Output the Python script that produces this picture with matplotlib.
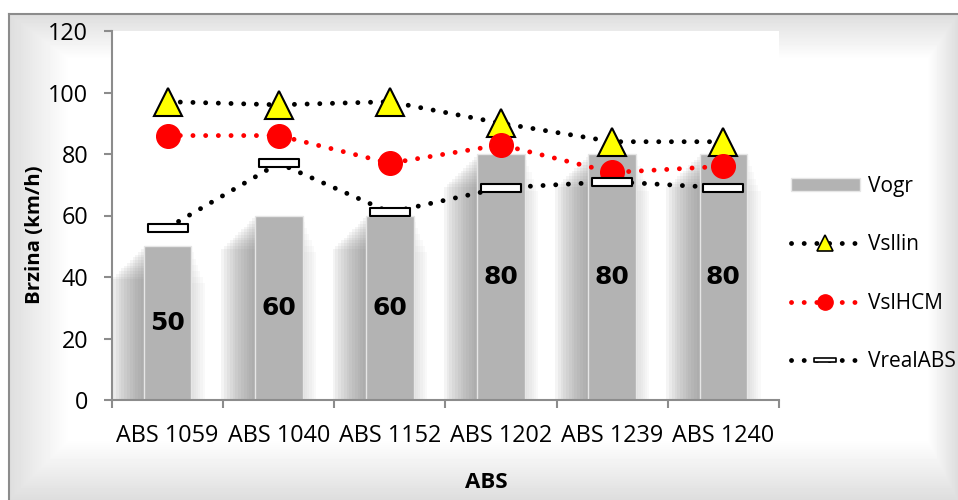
import numpy as np
import matplotlib
matplotlib.use("Agg")
import matplotlib.pyplot as plt
from matplotlib.path import Path
from matplotlib.patches import Patch
from matplotlib.lines import Line2D

plt.rcParams['font.family'] = ['Open Sans', 'DejaVu Sans']

categories = ['ABS 1059', 'ABS 1040', 'ABS 1152', 'ABS 1202', 'ABS 1239', 'ABS 1240']
v_ogr = [50, 60, 60, 80, 80, 80]
v_sllin = [97, 96, 97, 90, 84, 84]
v_slhcm = [86, 86, 77, 83, 74, 76]
v_realabs = [56, 77, 61, 69, 71, 69]

W, H = 958, 500
fig = plt.figure(figsize=(W / 100, H / 100), dpi=100)

# soft grey frame background
bg = fig.add_axes([9 / W, 0, 1 - 9 / W, (H - 14) / H], zorder=-5)
yy, xx = np.mgrid[0:486, 0:949]
d = np.minimum.reduce([xx / 60.0, yy / 45.0, (948 - xx) / 30.0, (485 - yy) / 60.0])
shade = 0.87 + 0.13 * np.clip(d, 0, 1)
bg.imshow(shade, cmap='gray', vmin=0, vmax=1, aspect='auto', interpolation='bilinear')
bg.set_xticks([])
bg.set_yticks([])
for s in ['right', 'bottom']:
    bg.spines[s].set_visible(False)
for s in ['left', 'top']:
    bg.spines[s].set_color('#8c8c8c')
    bg.spines[s].set_linewidth(1.5)

ax = fig.add_axes([112 / W, 100 / H, 667 / W, 369 / H])
ax.set_facecolor('white')
x = np.arange(len(categories))
bw = 0.43

# blurred shadow left of each bar
for k in range(12):
    off = 0.025 * (k + 1)
    ax.bar(x - off, [v - 0.9 * (k + 1) for v in v_ogr], width=bw, color='#8a8a8a',
           alpha=0.085, linewidth=0, zorder=1)
for k in range(6):
    off = 0.02 * (k + 1)
    ax.bar(x + off, [v - 2.0 * (k + 1) for v in v_ogr], width=bw, color='#a8a8a8',
           alpha=0.06, linewidth=0, zorder=1)

ax.bar(x, v_ogr, width=bw, color='#b3b3b3', edgecolor='#e6e6e6', linewidth=1,
       zorder=2, label='Vogr')
for xi, v in zip(x, v_ogr):
    ax.text(xi, v / 2, str(v), ha='center', va='center', fontsize=18,
            fontweight='heavy', family='DejaVu Sans', color='black', zorder=3)

dots = (0, (0.01, 2.6))
rect = Path([(-2.5, -0.5), (2.5, -0.5), (2.5, 0.5), (-2.5, 0.5), (-2.5, -0.5)],
            [Path.MOVETO, Path.LINETO, Path.LINETO, Path.LINETO, Path.CLOSEPOLY])

ax.plot(x, v_sllin, linestyle=dots, dash_capstyle='round', color='black', lw=3.5,
        marker='^', ms=20, mfc='#ffff00', mec='black', mew=1.5, zorder=5)
ax.plot(x, v_slhcm, linestyle=dots, dash_capstyle='round', color='#ff0000', lw=3.5,
        marker='o', ms=17, mfc='#ff0000', mec='#ff0000', zorder=5)
ax.plot(x, v_realabs, linestyle=dots, dash_capstyle='round', color='black', lw=3.5,
        marker=rect, ms=29, mfc='white', mec='black', mew=1.5, zorder=5)

ax.set_xlim(-0.5, len(categories) - 0.5)
ax.set_ylim(0, 120)
ax.set_yticks(range(0, 121, 20))
ax.set_xticks(x)
ax.set_xticklabels(categories)
ax.set_xticks(np.arange(-0.5, len(categories), 1), minor=True)
ax.tick_params(axis='x', which='major', length=0, pad=17, labelsize=16.8)
ax.tick_params(axis='x', which='minor', length=6, width=1.5, color='#8c8c8c')
ax.tick_params(axis='y', length=6, width=1.5, color='#8c8c8c', labelsize=16.8, pad=11)
for s in ['top', 'right']:
    ax.spines[s].set_visible(False)
for s in ['left', 'bottom']:
    ax.spines[s].set_color('#8c8c8c')
    ax.spines[s].set_linewidth(1.5)

fig.text(35 / W, 1 - 235 / H, 'Brzina (km/h)', rotation=90, ha='center', va='center',
         fontsize=14.7, fontweight='bold')
fig.text(486 / W, 1 - 483 / H, 'ABS', ha='center', va='center', fontsize=16,
         fontweight='bold')

handles = [
    Patch(facecolor='#b3b3b3', edgecolor='#e6e6e6', label='Vogr'),
    Line2D([], [], linestyle=dots, dash_capstyle='round', color='black', lw=3.5,
           marker='^', ms=11, mfc='#ffff00', mec='black', mew=1.2, label='Vsllin'),
    Line2D([], [], linestyle=dots, dash_capstyle='round', color='#ff0000', lw=3.5,
           marker='o', ms=11, mfc='#ff0000', mec='#ff0000', label='VslHCM'),
    Line2D([], [], linestyle=dots, dash_capstyle='round', color='black', lw=3.5,
           marker=rect, ms=16, mfc='white', mec='black', mew=1.2, label='VrealABS'),
]
fig.legend(handles=handles, loc='center left', bbox_to_anchor=(772 / W, 1 - 274 / H),
           frameon=False, fontsize=15, handlelength=3.3, handleheight=0.6,
           labelspacing=1.8, handletextpad=0.4)

fig.savefig('out.png', dpi=100)
